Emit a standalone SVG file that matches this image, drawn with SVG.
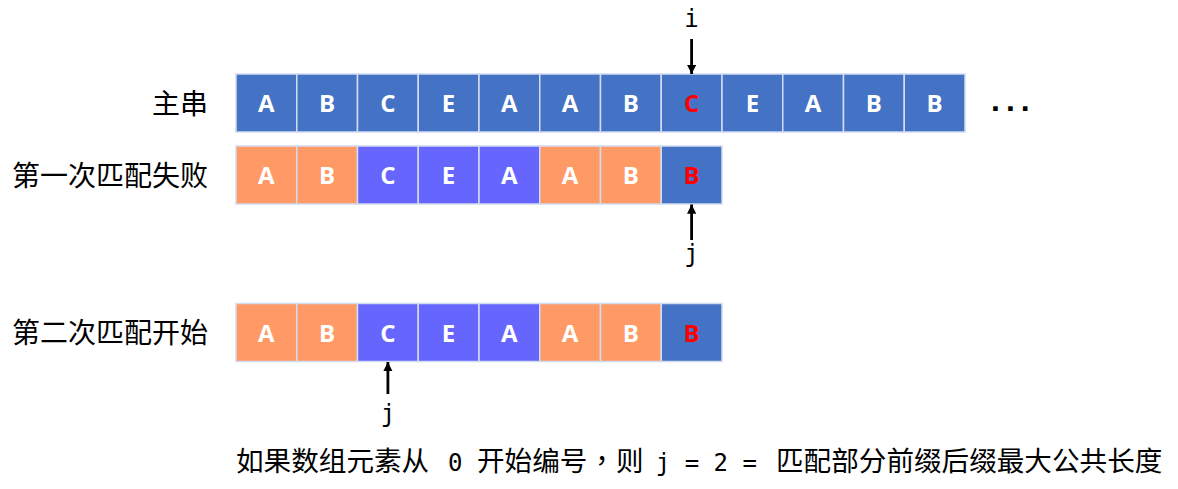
<svg xmlns="http://www.w3.org/2000/svg" width="1178" height="489" viewBox="0 0 1178 489">
<defs>
<style>
.c{stroke:#D2DCEF;stroke-width:1.5}
.b{fill:#4472C4}
.o{fill:#FF9966}
.p{fill:#6666FF}
.t{font-family:"Open Sans","Liberation Sans",sans-serif;font-weight:700;font-size:24px;fill:#fff;text-anchor:middle}
.r{fill:#FF0000}
.lbl{font-family:"Noto Sans CJK SC",sans-serif;font-size:28px;fill:#000;text-anchor:end}
.mono{font-family:"DejaVu Sans Mono",monospace;font-size:24px;fill:#000}
.cjk{font-family:"Noto Sans CJK SC",sans-serif;font-size:27.6px;fill:#000}
.arr{stroke:#000;stroke-width:2.8;fill:none;marker-end:url(#ah)}
</style>
<marker id="ah" viewBox="0 0 10 10" refX="10" refY="5" markerWidth="3.3" markerHeight="3.3" orient="auto" markerUnits="strokeWidth">
<path d="M0,0 L10,5 L0,10 Z" fill="#000"/>
</marker>
</defs>
<rect width="1178" height="489" fill="#fff"/>

<g id="label-main"><text class="lbl" x="208" y="113.5">主串</text></g>
<g id="label-first"><text class="lbl" x="208" y="185.5">第一次匹配失败</text></g>
<g id="label-second"><text class="lbl" x="208" y="342.5">第二次匹配开始</text></g>

<g id="main-string">
<rect class="c b" x="236" y="74" width="60.75" height="58"/>
<rect class="c b" x="296.75" y="74" width="60.75" height="58"/>
<rect class="c b" x="357.5" y="74" width="60.75" height="58"/>
<rect class="c b" x="418.25" y="74" width="60.75" height="58"/>
<rect class="c b" x="479" y="74" width="60.75" height="58"/>
<rect class="c b" x="539.75" y="74" width="60.75" height="58"/>
<rect class="c b" x="600.5" y="74" width="60.75" height="58"/>
<rect class="c b" x="661.25" y="74" width="60.75" height="58"/>
<rect class="c b" x="722" y="74" width="60.75" height="58"/>
<rect class="c b" x="782.75" y="74" width="60.75" height="58"/>
<rect class="c b" x="843.5" y="74" width="60.75" height="58"/>
<rect class="c b" x="904.25" y="74" width="60.75" height="58"/>
<text class="t" y="112"><tspan x="266.4">A</tspan><tspan x="327.1">B</tspan><tspan x="387.9">C</tspan><tspan x="448.6">E</tspan><tspan x="509.4">A</tspan><tspan x="570.1">A</tspan><tspan x="630.9">B</tspan><tspan x="691.6" class="r">C</tspan><tspan x="752.4">E</tspan><tspan x="813.1">A</tspan><tspan x="873.9">B</tspan><tspan x="934.6">B</tspan></text>
<text x="991" y="111" style="font-family:'Liberation Sans',sans-serif;font-weight:700;font-size:32px;letter-spacing:6px;fill:#000">...</text>
</g>

<g id="first-match">
<rect class="c o" x="236" y="146" width="60.75" height="58"/>
<rect class="c o" x="296.75" y="146" width="60.75" height="58"/>
<rect class="c p" x="357.5" y="146" width="60.75" height="58"/>
<rect class="c p" x="418.25" y="146" width="60.75" height="58"/>
<rect class="c p" x="479" y="146" width="60.75" height="58"/>
<rect class="c o" x="539.75" y="146" width="60.75" height="58"/>
<rect class="c o" x="600.5" y="146" width="60.75" height="58"/>
<rect class="c b" x="661.25" y="146" width="60.75" height="58"/>
<text class="t" y="184"><tspan x="266.4">A</tspan><tspan x="327.1">B</tspan><tspan x="387.9">C</tspan><tspan x="448.6">E</tspan><tspan x="509.4">A</tspan><tspan x="570.1">A</tspan><tspan x="630.9">B</tspan><tspan x="691.6" class="r">B</tspan></text>
</g>

<g id="second-match">
<rect class="c o" x="236" y="303.5" width="60.75" height="58"/>
<rect class="c o" x="296.75" y="303.5" width="60.75" height="58"/>
<rect class="c p" x="357.5" y="303.5" width="60.75" height="58"/>
<rect class="c p" x="418.25" y="303.5" width="60.75" height="58"/>
<rect class="c p" x="479" y="303.5" width="60.75" height="58"/>
<rect class="c o" x="539.75" y="303.5" width="60.75" height="58"/>
<rect class="c o" x="600.5" y="303.5" width="60.75" height="58"/>
<rect class="c b" x="661.25" y="303.5" width="60.75" height="58"/>
<text class="t" y="341.5"><tspan x="266.4">A</tspan><tspan x="327.1">B</tspan><tspan x="387.9">C</tspan><tspan x="448.6">E</tspan><tspan x="509.4">A</tspan><tspan x="570.1">A</tspan><tspan x="630.9">B</tspan><tspan x="691.6" class="r">B</tspan></text>
</g>

<g id="pointer-i"><text class="mono" x="691.6" y="27" text-anchor="middle">i</text></g>
<g id="pointer-j1"><text class="mono" x="691.6" y="262" text-anchor="middle">j</text></g>
<g id="pointer-j2"><text class="mono" x="387.9" y="422" text-anchor="middle">j</text></g>

<g id="connectors">
<line class="arr" x1="691.6" y1="39" x2="691.6" y2="74"/>
<line class="arr" x1="691.6" y1="240" x2="691.6" y2="204.5"/>
<line class="arr" x1="387.9" y1="394" x2="387.9" y2="362"/>
</g>

<g id="note">
<text y="471"><tspan class="cjk" x="236">如果数组元素从</tspan><tspan class="mono" x="448">0</tspan><tspan class="cjk" x="477">开始编号</tspan><tspan class="cjk" x="588" style="font-family:'Noto Sans CJK TC',sans-serif">，</tspan><tspan class="cjk" x="616">则</tspan><tspan class="mono" x="655.8" xml:space="preserve">j = 2 =</tspan><tspan class="cjk" x="776">匹配部分前缀后缀最大公共长度</tspan></text>
</g>
</svg>
